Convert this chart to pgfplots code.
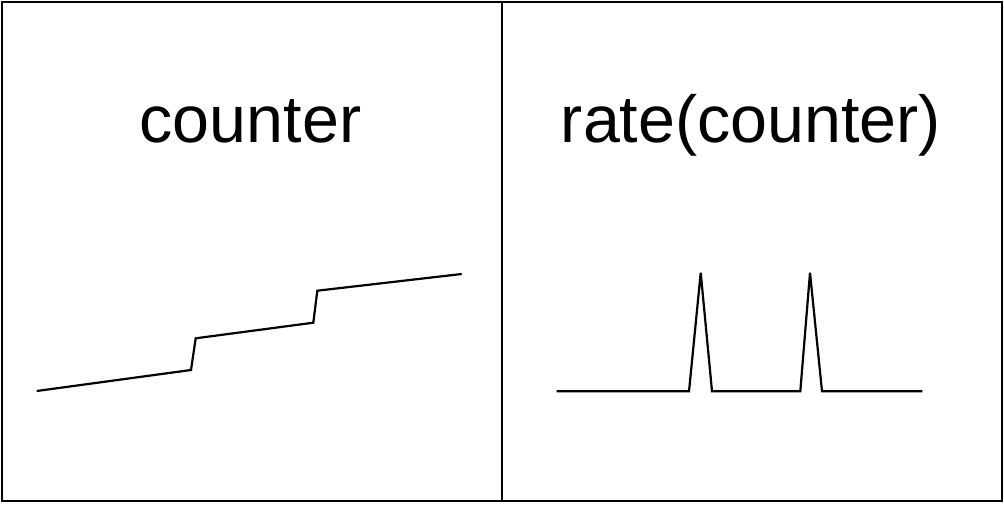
\documentclass[border=0pt]{standalone}
\usepackage{pgfplots}
\pgfplotsset{compat=1.18}
\usepackage{fontspec}
\setmainfont{Liberation Sans}

% 1 px of the reference = 0.5pt
\pgfplotsset{panel/.style={
    scale only axis,
    width=250pt, height=249.5pt,
    y dir=reverse,
    ymin=2, ymax=501,
    xtick=\empty, ytick=\empty,
    axis line style={line width=1pt},
    clip=false,
}}

\begin{document}
\begin{tikzpicture}
\useasboundingbox (0,0) rectangle (502pt,252pt);

% left panel: counter
\begin{axis}[panel, at={(1pt,1.5pt)}, anchor=south west, xmin=2, xmax=502]
\addplot[black, line width=1.1pt] coordinates {
  (36.7,391) (191,370) (195.7,338.3) (313.3,322.7) (317.3,290.7) (461.7,274)
};
\node[anchor=base, font=\fontsize{33.2pt}{40pt}\selectfont] at (axis cs:250.5,143) {counter};
\end{axis}

% right panel: rate(counter)
\begin{axis}[panel, at={(251pt,1.5pt)}, anchor=south west, xmin=502, xmax=1002]
\addplot[black, line width=1.1pt] coordinates {
  (556.7,391.3) (689,391.3) (700.7,272.7) (712,391.3)
  (800.3,391.3) (810,272.7) (822,391.3) (922.3,391.3)
};
\node[anchor=base, font=\fontsize{33.2pt}{40pt}\selectfont] at (axis cs:751,143) {rate(counter)};
\end{axis}
\end{tikzpicture}
\end{document}
